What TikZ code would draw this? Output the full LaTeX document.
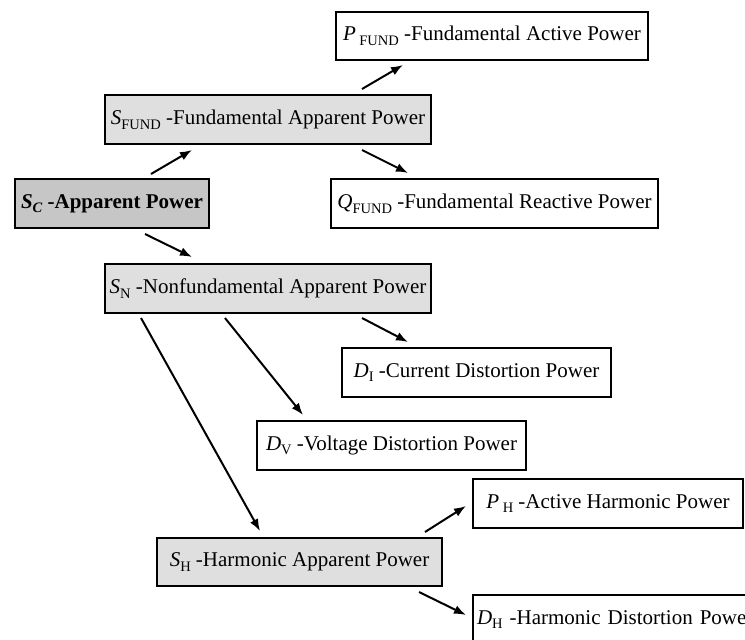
\documentclass[tikz,border=0pt]{standalone}
\usepackage{fontspec}
\setmainfont{Liberation Serif}
\usetikzlibrary{arrows.meta,calc}
\newcommand{\sbs}[1]{\raisebox{-0.22em}{\fontsize{14.5}{14.5}\selectfont #1}}
\tikzset{
  box/.style={draw=black, line width=2pt, anchor=north west, inner sep=0pt,
    font=\fontsize{21}{24}\selectfont, align=center},
  lightbox/.style={box, fill=gray!25},
  darkbox/.style={box, fill=gray!45},
  whitebox/.style={box, fill=white},
  arr/.style={line width=2pt, -{Latex[length=12pt,width=9pt]}}
}
\begin{document}
\begin{tikzpicture}[x=1pt,y=-1pt]
\clip (0,0) rectangle (745,640);
\fill[white] (0,0) rectangle (745,640);
\node[whitebox, minimum width=312pt, minimum height=48pt] (PF) at (335,11)
  {\textit{P}\,\sbs{FUND} -Fundamental Active Power};
\node[lightbox, minimum width=326pt, minimum height=49pt] (SF) at (104,94)
  {\textit{S}\sbs{FUND} -Fundamental Apparent Power};
\node[darkbox, minimum width=194pt, minimum height=49pt] (SC) at (14,178)
  {\bfseries\textit{S}\sbs{\bfseries\itshape C} -Apparent Power};
\node[whitebox, minimum width=327pt, minimum height=49pt] (QF) at (330,178)
  {\textit{Q}\sbs{FUND} -Fundamental Reactive Power};
\node[lightbox, minimum width=326pt, minimum height=49pt] (SN) at (104,263)
  {\textit{S}\sbs{N} -Nonfundamental Apparent Power};
\node[whitebox, minimum width=269pt, minimum height=49pt] (DI) at (341,347)
  {\textit{D}\sbs{I} -Current Distortion Power};
\node[whitebox, minimum width=269pt, minimum height=49pt] (DV) at (256,420)
  {\textit{D}\sbs{V} -Voltage Distortion Power};
\node[whitebox, minimum width=270pt, minimum height=49pt] (PH) at (472,478)
  {\textit{P}\,\sbs{H} -Active Harmonic Power};
\node[lightbox, minimum width=285pt, minimum height=48pt] (SH) at (156,537)
  {\textit{S}\sbs{H} -Harmonic Apparent Power};
\node[whitebox, minimum width=300pt, minimum height=49pt, text width=292pt,
  align=left, inner xsep=4pt] (DH) at (472,594)
  {\textit{D}\sbs{H} -Harmonic Distortion Power};
\draw[arr] ($(SC.north west)+(137,-4)$) -- ($(SF.south west)+(88,5)$);
\draw[arr] ($(SF.north west)+(258,-5)$) -- ($(PF.south west)+(68,4)$);
\draw[arr] ($(SF.south west)+(258,5)$) -- ($(QF.north west)+(78,-5)$);
\draw[arr] ($(SC.south west)+(131,5)$) -- ($(SN.north west)+(88,-6)$);
\draw[arr] ($(SN.south west)+(258,4)$) -- ($(DI.north west)+(67,-5)$);
\draw[arr] ($(SN.south west)+(121,4)$) -- ($(DV.north west)+(47,-5)$);
\draw[arr] ($(SN.south west)+(37,4)$) -- ($(SH.north west)+(104,-6)$);
\draw[arr] ($(SH.north west)+(269,-5)$) -- ($(PH.north west)+(-6,28)$);
\draw[arr] ($(SH.south west)+(263,5)$) -- ($(DH.north west)+(-6,21)$);
\end{tikzpicture}
\end{document}
